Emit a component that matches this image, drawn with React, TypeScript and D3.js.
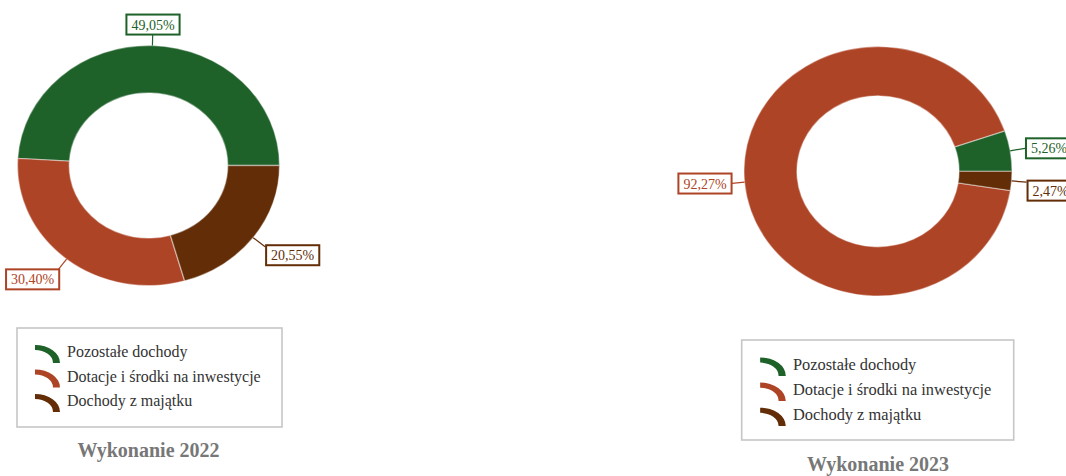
import React from "react";
import * as d3 from "d3";

const categories = ["Pozostałe dochody", "Dotacje i środki na inwestycje", "Dochody z majątku"];
const values2022 = [49.05, 30.4, 20.55];
const values2023 = [5.26, 92.27, 2.47];
const titles = ["Wykonanie 2022", "Wykonanie 2023"];
const colors = ["#1e6129", "#ae4426", "#622d07"];

const W = 1066;
const H = 476;
const FONT = "'Liberation Serif', 'Times New Roman', serif";

const panels = [
  { values: values2022, title: titles[0], cx: 148.5, cy: 165.5, rx: 131, ry: 120, legendX: 17, legendY: 328, legendW: 265, legendH: 99, titleY: 457, s: 1 },
  { values: values2023, title: titles[1], cx: 878, cy: 171.3, rx: 134, ry: 124.7, legendX: 741.7, legendY: 340, legendW: 272, legendH: 100, titleY: 471, s: 1.025 },
];

const fmt = (v: number) => v.toFixed(2).replace(".", ",") + "%";

const charW = (c: string) => (c === "," ? 0.25 : c === "%" ? 0.833 : 0.5);
const textWidth = (t: string, size: number) => t.split("").reduce((a, c) => a + charW(c), 0) * size;

function Panel({ p }: { p: (typeof panels)[number] }) {
  const pie = d3
    .pie<number>()
    .sort(null)
    .startAngle(Math.PI / 2)
    .endAngle(Math.PI / 2 - 2 * Math.PI);
  const arcs = pie(p.values);
  const arc = d3
    .arc<d3.PieArcDatum<number>>()
    .innerRadius(p.rx * 0.605)
    .outerRadius(p.rx);
  const sy = p.ry / p.rx;

  const labelSize = 14;
  const boxH = 20;

  const labels = arcs.map((a, i) => {
    const mid = (a.startAngle + a.endAngle) / 2;
    const dx = Math.sin(mid);
    const dy = -Math.cos(mid);
    const ex = p.cx + p.rx * dx;
    const ey = p.cy + p.ry * dy;
    const text = fmt(p.values[i]);
    const bw = textWidth(text, labelSize) + 10;
    let bx: number, bcy: number, lx: number, ly: number;
    if (Math.abs(dx) < 0.35) {
      bx = ex + 20 * dx - bw / 2;
      bcy = ey + (dy < 0 ? -21 : 21);
      lx = ex + 20 * dx;
      ly = bcy;
    } else {
      lx = ex + 15 * dx;
      ly = ey + 15 * dy;
      bx = dx > 0 ? lx + 1 : lx - bw + 2;
      bcy = ly + (dy > 0.3 || (dx > 0 && dy > 0.05) ? 8.5 : 0);
    }
    return { i, ex, ey, lx, ly, bx, bcy, bw, text };
  });

  const rowY = (i: number) => p.legendY + 24 * p.s + i * 24.5 * p.s;
  const iconArc = d3
    .arc<any>()
    .innerRadius(18 * p.s)
    .outerRadius(25 * p.s)
    .startAngle(0)
    .endAngle(Math.PI / 2);

  return (
    <g>
      <g transform={`translate(${p.cx},${p.cy}) scale(1,${sy})`}>
        {arcs.map((a, i) => (
          <path key={i} d={arc(a) || ""} fill={colors[i]} stroke="rgba(255,255,255,0.4)" strokeWidth={1.4} />
        ))}
      </g>
      {labels.map((l) => (
        <g key={l.i}>
          <line x1={l.ex} y1={l.ey} x2={l.lx} y2={l.ly} stroke={colors[l.i]} strokeWidth={1.2} />
          <rect x={l.bx} y={l.bcy - boxH / 2} width={l.bw} height={boxH} fill="#fff" stroke={colors[l.i]} strokeWidth={2} />
          <text x={l.bx + l.bw / 2} y={l.bcy + 5} textAnchor="middle" fontSize={labelSize} fontFamily={FONT} fill={colors[l.i]}>
            {l.text}
          </text>
        </g>
      ))}
      <rect x={p.legendX} y={p.legendY} width={p.legendW} height={p.legendH} fill="#fff" stroke="#c6c6c6" strokeWidth={1.6} />
      {categories.map((c, i) => {
        const cy = rowY(i);
        const ix = p.legendX + 18 * p.s;
        const iy = cy + 11 * p.s;
        return (
          <g key={c}>
            <g transform={`translate(${ix},${iy}) scale(1,0.72)`}>
              <path d={iconArc({}) || ""} fill={colors[i]} />
            </g>
            <text x={p.legendX + 50 * p.s} y={cy + 5.3 * p.s} fontSize={16 * p.s} fontFamily={FONT} fill="#333">
              {c}
            </text>
          </g>
        );
      })}
      <text x={p.cx} y={p.titleY} textAnchor="middle" fontSize={20} fontWeight="bold" fontFamily={FONT} fill="#777">
        {p.title}
      </text>
    </g>
  );
}

export default function App() {
  return (
    <svg
      width={W}
      height={H}
      viewBox={`0 0 ${W} ${H}`}
      style={{ position: "absolute", left: 0, top: 0, display: "block", background: "#fff" }}
    >
      {panels.map((p, k) => (
        <Panel key={k} p={p} />
      ))}
    </svg>
  );
}
